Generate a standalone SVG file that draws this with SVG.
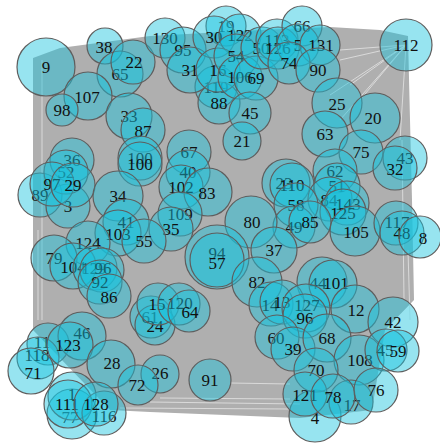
<svg xmlns="http://www.w3.org/2000/svg" width="440" height="444" viewBox="0 0 440 444">
<style>
.n circle{fill:#18c3de;fill-opacity:0.45;stroke:#5e5e5e;stroke-width:1.2}
.n text{font-family:"Liberation Serif",serif;font-size:17px;fill:#111;text-anchor:middle;dominant-baseline:central}
.e{stroke:#e4e4e4;stroke-width:0.8;fill:none}
</style>
<rect width="440" height="444" fill="#fff"/>
<g id="connectors">
<path d="M33,58 L60,48 L150,36 L260,30 L330,27 L380,30 L408,36 L410,120 L412,200 L414,300 L385,330 L372,410 L300,418 L150,412 L110,410 L33,330 Z" fill="#afafaf"/>
<line class="e" x1="406" y1="45" x2="340" y2="120"/>
<line class="e" x1="406" y1="45" x2="330" y2="95"/>
<line class="e" x1="406" y1="45" x2="350" y2="85"/>
<line class="e" x1="406" y1="45" x2="360" y2="100"/>
<line class="e" x1="406" y1="45" x2="400" y2="140"/>
<line class="e" x1="406" y1="45" x2="340" y2="60"/>
<line class="e" x1="406" y1="45" x2="340" y2="50"/>
<line class="e" x1="402" y1="140" x2="404" y2="300"/>
<line class="e" x1="408" y1="250" x2="410" y2="320"/>
<line class="e" x1="42" y1="60" x2="42" y2="320"/>
<line class="e" x1="38" y1="230" x2="38" y2="320"/>
<line class="e" x1="150" y1="402" x2="300" y2="404"/>
<line class="e" x1="160" y1="398" x2="290" y2="399"/>
<line class="e" x1="230" y1="383" x2="290" y2="384"/>
<line class="e" x1="120" y1="408" x2="290" y2="409"/>
</g>
<g class="n" id="n9"><circle cx="46" cy="67" r="29"/><text x="46" y="67">9</text></g>
<g class="n" id="n112"><circle cx="406" cy="45" r="26"/><text x="406" y="45">112</text></g>
<g class="n" id="n38"><circle cx="105" cy="46" r="18"/><text x="104" y="47">38</text></g>
<g class="n" id="n65"><circle cx="120" cy="74" r="23"/><text x="120" y="74">65</text></g>
<g class="n" id="n22"><circle cx="133" cy="62" r="22"/><text x="134" y="62">22</text></g>
<g class="n" id="n107"><circle cx="88" cy="96" r="24"/><text x="87" y="97">107</text></g>
<g class="n" id="n98"><circle cx="62" cy="110" r="16"/><text x="62" y="110">98</text></g>
<g class="n" id="n33"><circle cx="129" cy="116" r="23"/><text x="129" y="116">33</text></g>
<g class="n" id="n87"><circle cx="143" cy="130" r="22"/><text x="143" y="131">87</text></g>
<g class="n" id="n130"><circle cx="165" cy="38" r="20"/><text x="165" y="38">130</text></g>
<g class="n" id="n95"><circle cx="183" cy="50" r="23"/><text x="183" y="50">95</text></g>
<g class="n" id="n19"><circle cx="226" cy="26" r="20"/><text x="226" y="26">19</text></g>
<g class="n" id="n119"><circle cx="216" cy="87" r="21"/><text x="216" y="87">119</text></g>
<g class="n" id="n88"><circle cx="219" cy="103" r="21"/><text x="219" y="103">88</text></g>
<g class="n" id="n31"><circle cx="190" cy="70" r="23"/><text x="190" y="70">31</text></g>
<g class="n" id="n30"><circle cx="214" cy="37" r="21"/><text x="214" y="37">30</text></g>
<g class="n" id="n122"><circle cx="240" cy="35" r="21"/><text x="240" y="35">122</text></g>
<g class="n" id="n16"><circle cx="218" cy="70" r="22"/><text x="218" y="70">16</text></g>
<g class="n" id="n54"><circle cx="236" cy="56" r="22"/><text x="236" y="56">54</text></g>
<g class="n" id="n106"><circle cx="240" cy="77" r="22"/><text x="240" y="77">106</text></g>
<g class="n" id="n69"><circle cx="256" cy="78" r="22"/><text x="256" y="78">69</text></g>
<g class="n" id="n45"><circle cx="250" cy="113" r="21"/><text x="250" y="113">45</text></g>
<g class="n" id="n21"><circle cx="242" cy="141" r="19"/><text x="242" y="141">21</text></g>
<g class="n" id="n50"><circle cx="262" cy="48" r="21"/><text x="261" y="48">50</text></g>
<g class="n" id="n113"><circle cx="277" cy="40" r="21"/><text x="277" y="40">113</text></g>
<g class="n" id="n126"><circle cx="278" cy="48" r="21"/><text x="278" y="48">126</text></g>
<g class="n" id="n66"><circle cx="302" cy="26" r="20"/><text x="302" y="26">66</text></g>
<g class="n" id="n5"><circle cx="298" cy="45" r="21"/><text x="298" y="45">5</text></g>
<g class="n" id="n131"><circle cx="320" cy="45" r="20"/><text x="321" y="45">131</text></g>
<g class="n" id="n74"><circle cx="289" cy="63" r="21"/><text x="289" y="63">74</text></g>
<g class="n" id="n90"><circle cx="318" cy="70" r="22"/><text x="318" y="70">90</text></g>
<g class="n" id="n25"><circle cx="337" cy="103" r="25"/><text x="337" y="104">25</text></g>
<g class="n" id="n20"><circle cx="375" cy="118" r="25"/><text x="373" y="118">20</text></g>
<g class="n" id="n63"><circle cx="325" cy="134" r="23"/><text x="325" y="134">63</text></g>
<g class="n" id="n75"><circle cx="361" cy="152" r="22"/><text x="361" y="152">75</text></g>
<g class="n" id="n43"><circle cx="405" cy="158" r="22"/><text x="405" y="158">43</text></g>
<g class="n" id="n32"><circle cx="395" cy="168" r="22"/><text x="395" y="169">32</text></g>
<g class="n" id="n67"><circle cx="189" cy="152" r="22"/><text x="189" y="152">67</text></g>
<g class="n" id="n100a"><circle cx="140" cy="158" r="22"/><text x="140" y="158">100</text></g>
<g class="n" id="n100b"><circle cx="140" cy="164" r="22"/><text x="140" y="164">100</text></g>
<g class="n" id="n89"><circle cx="40" cy="195" r="22"/><text x="40" y="195">89</text></g>
<g class="n" id="n3"><circle cx="68" cy="206" r="22"/><text x="68" y="206">3</text></g>
<g class="n" id="n36"><circle cx="72" cy="160" r="22"/><text x="72" y="160">36</text></g>
<g class="n" id="n52"><circle cx="66" cy="172" r="22"/><text x="66" y="172">52</text></g>
<g class="n" id="n97"><circle cx="52" cy="184" r="22"/><text x="52" y="184">97</text></g>
<g class="n" id="n29"><circle cx="73" cy="185" r="22"/><text x="73" y="185">29</text></g>
<g class="n" id="n40"><circle cx="188" cy="172" r="22"/><text x="188" y="172">40</text></g>
<g class="n" id="n102"><circle cx="181" cy="187" r="22"/><text x="181" y="187">102</text></g>
<g class="n" id="n83"><circle cx="208" cy="192" r="24"/><text x="207" y="193">83</text></g>
<g class="n" id="n23"><circle cx="286" cy="183" r="24"/><text x="284" y="183">23</text></g>
<g class="n" id="n110"><circle cx="292" cy="185" r="22"/><text x="292" y="185">110</text></g>
<g class="n" id="n62"><circle cx="335" cy="171" r="22"/><text x="335" y="171">62</text></g>
<g class="n" id="n51"><circle cx="337" cy="186" r="23"/><text x="337" y="186">51</text></g>
<g class="n" id="n84"><circle cx="330" cy="199" r="22"/><text x="329" y="200">84</text></g>
<g class="n" id="n143"><circle cx="347" cy="203" r="22"/><text x="348" y="204">143</text></g>
<g class="n" id="n125"><circle cx="343" cy="212" r="23"/><text x="343" y="213">125</text></g>
<g class="n" id="n58"><circle cx="296" cy="205" r="22"/><text x="296" y="205">58</text></g>
<g class="n" id="n49"><circle cx="294" cy="227" r="21"/><text x="294" y="227">49</text></g>
<g class="n" id="n85"><circle cx="310" cy="222" r="21"/><text x="310" y="222">85</text></g>
<g class="n" id="n105"><circle cx="355" cy="231" r="25"/><text x="356" y="232">105</text></g>
<g class="n" id="n117"><circle cx="396" cy="223" r="22"/><text x="397" y="222">117</text></g>
<g class="n" id="n48"><circle cx="402" cy="233" r="22"/><text x="402" y="233">48</text></g>
<g class="n" id="n8"><circle cx="420" cy="237" r="21"/><text x="423" y="238">8</text></g>
<g class="n" id="n34"><circle cx="118" cy="196" r="25"/><text x="118" y="196">34</text></g>
<g class="n" id="n109"><circle cx="180" cy="214" r="22"/><text x="180" y="214">109</text></g>
<g class="n" id="n35"><circle cx="171" cy="229" r="22"/><text x="171" y="229">35</text></g>
<g class="n" id="n41"><circle cx="126" cy="222" r="23"/><text x="126" y="222">41</text></g>
<g class="n" id="n103"><circle cx="118" cy="233" r="23"/><text x="118" y="234">103</text></g>
<g class="n" id="n55"><circle cx="144" cy="241" r="22"/><text x="144" y="241">55</text></g>
<g class="n" id="n80"><circle cx="251" cy="222" r="26"/><text x="252" y="222">80</text></g>
<g class="n" id="n124"><circle cx="88" cy="243" r="22"/><text x="88" y="243">124</text></g>
<g class="n" id="n79"><circle cx="54" cy="258" r="23"/><text x="54" y="258">79</text></g>
<g class="n" id="n104"><circle cx="73" cy="266" r="23"/><text x="73" y="267">104</text></g>
<g class="n" id="n129"><circle cx="95" cy="268" r="22"/><text x="94" y="268">129</text></g>
<g class="n" id="n96b"><circle cx="102" cy="270" r="22"/><text x="103" y="268">96</text></g>
<g class="n" id="n92"><circle cx="100" cy="282" r="22"/><text x="100" y="282">92</text></g>
<g class="n" id="n86"><circle cx="109" cy="296" r="22"/><text x="109" y="297">86</text></g>
<g class="n" id="n94"><circle cx="217" cy="257" r="32"/><text x="217" y="253">94</text></g>
<g class="n" id="n57"><circle cx="217" cy="260" r="27"/><text x="217" y="263">57</text></g>
<g class="n" id="n37"><circle cx="274" cy="250" r="23"/><text x="274" y="250">37</text></g>
<g class="n" id="n82"><circle cx="257" cy="282" r="25"/><text x="257" y="282">82</text></g>
<g class="n" id="n44"><circle cx="322" cy="282" r="25"/><text x="318" y="283">44</text></g>
<g class="n" id="n101"><circle cx="333" cy="284" r="24"/><text x="336" y="283">101</text></g>
<g class="n" id="n14"><circle cx="271" cy="304" r="22"/><text x="270" y="305">14</text></g>
<g class="n" id="n13"><circle cx="282" cy="302" r="22"/><text x="282" y="302">13</text></g>
<g class="n" id="n127"><circle cx="306" cy="308" r="24"/><text x="307" y="305">127</text></g>
<g class="n" id="n96"><circle cx="305" cy="316" r="22"/><text x="305" y="318">96</text></g>
<g class="n" id="n12"><circle cx="355" cy="309" r="24"/><text x="356" y="310">12</text></g>
<g class="n" id="n42"><circle cx="393" cy="322" r="25"/><text x="393" y="322">42</text></g>
<g class="n" id="n61"><circle cx="151" cy="317" r="21"/><text x="150" y="317">61</text></g>
<g class="n" id="n24"><circle cx="155" cy="325" r="20"/><text x="155" y="326">24</text></g>
<g class="n" id="n15"><circle cx="158" cy="304" r="21"/><text x="157" y="304">15</text></g>
<g class="n" id="n120"><circle cx="179" cy="304" r="21"/><text x="180" y="303">120</text></g>
<g class="n" id="n64"><circle cx="189" cy="311" r="21"/><text x="190" y="312">64</text></g>
<g class="n" id="n11"><circle cx="48" cy="344" r="21"/><text x="42" y="342">11</text></g>
<g class="n" id="n118"><circle cx="38" cy="358" r="21"/><text x="37" y="355">118</text></g>
<g class="n" id="n71"><circle cx="31" cy="371" r="23"/><text x="33" y="373">71</text></g>
<g class="n" id="n46"><circle cx="82" cy="336" r="24"/><text x="82" y="333">46</text></g>
<g class="n" id="n123"><circle cx="70" cy="345" r="23"/><text x="68" y="345">123</text></g>
<g class="n" id="n28"><circle cx="111" cy="364" r="24"/><text x="112" y="363">28</text></g>
<g class="n" id="n26"><circle cx="160" cy="374" r="19"/><text x="160" y="373">26</text></g>
<g class="n" id="n72"><circle cx="138" cy="385" r="20"/><text x="137" y="385">72</text></g>
<g class="n" id="n91"><circle cx="210" cy="380" r="21"/><text x="210" y="380">91</text></g>
<g class="n" id="n60"><circle cx="277" cy="337" r="22"/><text x="276" y="338">60</text></g>
<g class="n" id="n39"><circle cx="293" cy="349" r="22"/><text x="293" y="349">39</text></g>
<g class="n" id="n68"><circle cx="327" cy="338" r="24"/><text x="327" y="338">68</text></g>
<g class="n" id="n108"><circle cx="359" cy="360" r="25"/><text x="360" y="360">108</text></g>
<g class="n" id="n45b"><circle cx="386" cy="350" r="21"/><text x="385" y="350">45</text></g>
<g class="n" id="n59"><circle cx="398" cy="351" r="21"/><text x="398" y="351">59</text></g>
<g class="n" id="n4"><circle cx="315" cy="416" r="26"/><text x="315" y="418">4</text></g>
<g class="n" id="n17"><circle cx="351" cy="402" r="22"/><text x="352" y="405">17</text></g>
<g class="n" id="n70"><circle cx="316" cy="370" r="22"/><text x="316" y="370">70</text></g>
<g class="n" id="n121"><circle cx="305" cy="394" r="22"/><text x="305" y="395">121</text></g>
<g class="n" id="n78"><circle cx="333" cy="396" r="22"/><text x="333" y="397">78</text></g>
<g class="n" id="n76"><circle cx="376" cy="390" r="22"/><text x="376" y="390">76</text></g>
<g class="n" id="n77"><circle cx="72" cy="414" r="25"/><text x="70" y="417">77</text></g>
<g class="n" id="n1"><circle cx="72" cy="396" r="24"/><text x="72" y="394">1</text></g>
<g class="n" id="n111"><circle cx="68" cy="404" r="24"/><text x="67" y="404">111</text></g>
<g class="n" id="n116"><circle cx="104" cy="413" r="22"/><text x="104" y="416">116</text></g>
<g class="n" id="n128"><circle cx="96" cy="404" r="22"/><text x="96" y="404">128</text></g>
</svg>
